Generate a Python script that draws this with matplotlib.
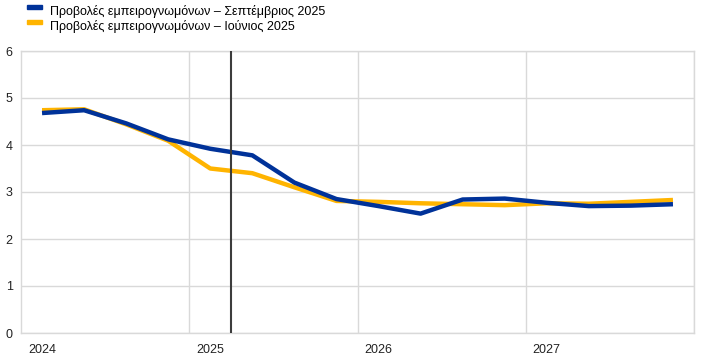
import matplotlib
matplotlib.use("Agg")
import matplotlib.pyplot as plt
from matplotlib.patches import Patch, Rectangle
from matplotlib.legend_handler import HandlerPatch
import numpy as np

plt.rcParams['font.family'] = ['Liberation Sans', 'DejaVu Sans']

years = [2024, 2025, 2026, 2027]
quarters = [f"{y}Q{q}" for y in years for q in range(1, 5)]
sep_2025 = [4.68, 4.74, 4.46, 4.12, 3.92, 3.78, 3.20, 2.85, 2.70, 2.54, 2.84, 2.86, 2.77, 2.70, 2.71, 2.74]
jun_2025 = [4.74, 4.76, 4.44, 4.09, 3.50, 3.40, 3.10, 2.81, 2.79, 2.76, 2.74, 2.72, 2.76, 2.75, 2.79, 2.83]
series_labels = ["Προβολές εμπειρογνωμόνων – Σεπτέμβριος 2025",
                 "Προβολές εμπειρογνωμόνων – Ιούνιος 2025"]
year_labels = ["2024", "2025", "2026", "2027"]
cutoff = 2025.25

x = np.array([y + (q - 0.5) / 4 for y in years for q in range(1, 5)])

W, H = 712, 359
fig = plt.figure(figsize=(W / 100, H / 100), dpi=100)
ax = fig.add_axes([21 / W, (H - 333) / H, (694 - 21) / W, (333 - 51) / H])

blue = "#003299"
yellow = "#FFB400"

ax.plot(x, jun_2025, color=yellow, lw=3.2, solid_capstyle='butt', zorder=3)
ax.plot(x, sep_2025, color=blue, lw=3.2, solid_capstyle='butt', zorder=4)
ax.axvline(cutoff, color="#3c3c3c", lw=1.5, zorder=5)

ax.set_xlim(2024, 2028)
ax.set_ylim(0, 6)
ax.set_yticks(range(0, 7))
ax.set_xticks([y + 0.125 for y in years])
ax.set_xticklabels(year_labels)
ax.set_xticks([2025, 2026, 2027, 2028], minor=True)
ax.tick_params(axis='both', which='both', length=0, labelsize=9, colors="#222222")
ax.tick_params(axis='x', pad=8)
ax.tick_params(axis='y', pad=6)
ax.grid(True, axis='y', which='major', color="#d9d9d9", lw=1)
ax.grid(True, axis='x', which='minor', color="#d9d9d9", lw=1)
ax.grid(False, axis='x', which='major')
for s in ax.spines.values():
    s.set_color("#d9d9d9")
    s.set_linewidth(1)


def top_rect(legend, orig_handle, xdescent, ydescent, width, height, fontsize):
    return Rectangle((-xdescent, -ydescent + height * 0.62), width, height * 0.42)


handles = [Patch(color=blue), Patch(color=yellow)]
fig.legend(handles, series_labels, loc='upper left', bbox_to_anchor=(27 / W, 1 - 5 / H),
           frameon=False, fontsize=9, handlelength=1.2, handleheight=0.9, handletextpad=0.6,
           labelspacing=0.15, borderaxespad=0, borderpad=0,
           handler_map={Patch: HandlerPatch(patch_func=top_rect)})

fig.savefig("out.png", dpi=100)
